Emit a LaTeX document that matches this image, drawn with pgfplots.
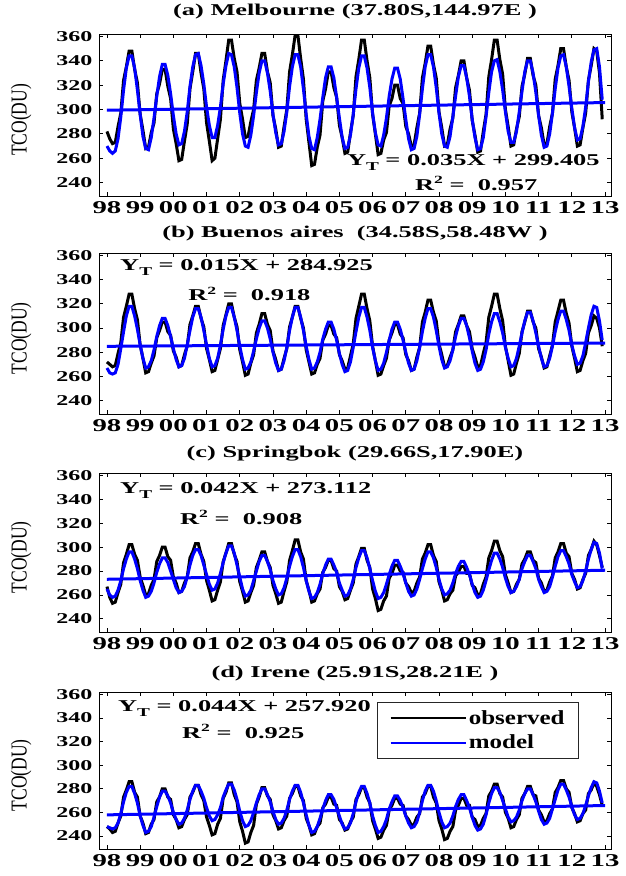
\documentclass[border=0pt]{standalone}
\usepackage{fontspec}
\setmainfont{Liberation Serif}
\newfontfamily\strfont{Liberation Serif}[FakeStretch=1.6]
\newfontfamily\legfont{Liberation Serif}[FakeStretch=1.25]
\usepackage{graphicx}
\usepackage{pgfplots}
\usepackage{pgfplotstable}
\pgfplotsset{compat=1.18}

% ---------- Melbourne ----------
\pgfplotstableread[row sep=\\]{v\\
282\\276\\272\\
273\\286\\297\\324\\335\\348\\
348\\333\\322\\296\\283\\268\\
269\\281\\289\\313\\321\\333\\
333\\319\\309\\284\\272\\258\\
259\\274\\288\\317\\331\\346\\
346\\330\\317\\289\\274\\258\\
260\\276\\292\\324\\340\\357\\
357\\342\\331\\305\\292\\277\\
278\\290\\300\\324\\334\\346\\
346\\331\\322\\295\\284\\269\\
270\\286\\300\\331\\345\\361\\
361\\342\\325\\292\\273\\254\\
255\\269\\279\\307\\317\\331\\
331\\318\\310\\287\\277\\264\\
265\\281\\295\\327\\341\\357\\
357\\340\\326\\296\\280\\263\\
264\\275\\281\\303\\309\\320\\
320\\309\\305\\286\\280\\270\\
271\\285\\297\\326\\338\\352\\
352\\337\\326\\298\\285\\270\\
271\\284\\293\\318\\328\\340\\
340\\326\\316\\291\\279\\265\\
266\\282\\296\\327\\341\\357\\
357\\341\\329\\300\\286\\270\\
271\\284\\294\\319\\329\\342\\
342\\328\\320\\295\\285\\271\\
272\\286\\297\\325\\336\\350\\
350\\335\\324\\298\\285\\270\\
271\\285\\297\\324\\336\\350\\
348\\330\\292\\
}\melO
\pgfplotstableread[row sep=\\]{v\\
270\\266\\264\\
266\\276\\294\\316\\334\\344\\
344\\334\\316\\296\\278\\268\\
267\\277\\293\\311\\327\\337\\
337\\328\\313\\295\\280\\271\\
272\\282\\298\\319\\335\\345\\
346\\336\\321\\302\\287\\277\\
277\\287\\302\\321\\336\\346\\
345\\335\\318\\297\\280\\270\\
269\\279\\295\\314\\330\\340\\
340\\330\\315\\296\\281\\271\\
272\\282\\298\\319\\335\\345\\
345\\335\\317\\296\\278\\268\\
267\\277\\292\\310\\326\\335\\
335\\326\\310\\293\\277\\268\\
269\\279\\296\\317\\334\\344\\
344\\334\\318\\297\\281\\271\\
270\\279\\293\\311\\325\\334\\
334\\325\\309\\292\\276\\267\\
268\\278\\296\\317\\335\\345\\
345\\335\\318\\297\\280\\270\\
269\\278\\294\\311\\327\\336\\
336\\326\\311\\292\\277\\267\\
268\\277\\294\\314\\331\\340\\
341\\331\\316\\298\\282\\273\\
273\\282\\298\\315\\331\\340\\
340\\330\\314\\295\\279\\269\\
270\\280\\297\\317\\334\\344\\
345\\335\\319\\301\\285\\275\\
276\\286\\302\\323\\339\\349\\
350\\335\\308\\
}\melM

% ---------- Buenos Aires ----------
\pgfplotstableread[row sep=\\]{v\\
272\\270\\268\\
269\\279\\288\\309\\318\\328\\
328\\316\\307\\286\\275\\263\\
264\\271\\277\\292\\298\\305\\
305\\297\\294\\281\\276\\268\\
269\\278\\285\\303\\310\\318\\
318\\308\\301\\283\\274\\264\\
265\\274\\283\\302\\311\\320\\
320\\309\\301\\282\\272\\261\\
262\\271\\278\\296\\303\\312\\
312\\303\\298\\281\\274\\265\\
266\\275\\283\\301\\309\\318\\
318\\308\\300\\282\\272\\262\\
263\\270\\275\\290\\295\\302\\
302\\295\\292\\278\\273\\266\\
267\\277\\287\\308\\318\\328\\
328\\316\\306\\285\\273\\261\\
262\\269\\275\\290\\296\\303\\
303\\295\\292\\278\\273\\265\\
266\\276\\284\\305\\313\\323\\
323\\313\\306\\287\\278\\268\\
269\\276\\282\\297\\303\\310\\
310\\302\\297\\283\\276\\268\\
269\\279\\288\\309\\318\\328\\
328\\316\\306\\285\\273\\261\\
262\\271\\279\\297\\305\\314\\
314\\305\\300\\283\\276\\267\\
268\\277\\286\\305\\314\\323\\
323\\312\\304\\285\\275\\264\\
265\\273\\279\\296\\302\\310\\
308\\300\\285\\
}\baO
\pgfplotstableread[row sep=\\]{v\\
267\\263\\262\\
263\\270\\283\\297\\310\\318\\
318\\310\\299\\286\\275\\267\\
268\\273\\282\\293\\302\\308\\
308\\302\\293\\283\\274\\268\\
269\\275\\286\\298\\309\\316\\
316\\309\\298\\286\\275\\268\\
269\\275\\286\\299\\310\\317\\
317\\309\\298\\285\\274\\266\\
267\\272\\281\\291\\300\\306\\
306\\300\\291\\280\\271\\265\\
266\\273\\284\\298\\309\\317\\
317\\309\\298\\285\\274\\266\\
267\\272\\280\\291\\299\\305\\
305\\299\\290\\279\\270\\264\\
265\\272\\284\\297\\309\\317\\
317\\309\\298\\284\\273\\265\\
266\\271\\280\\290\\299\\305\\
305\\299\\290\\280\\271\\265\\
266\\273\\284\\297\\308\\316\\
316\\309\\298\\285\\274\\267\\
268\\273\\282\\293\\302\\308\\
308\\302\\292\\281\\271\\265\\
266\\272\\282\\295\\305\\312\\
312\\305\\296\\284\\275\\268\\
269\\275\\285\\296\\306\\313\\
313\\306\\296\\285\\275\\268\\
269\\275\\285\\297\\307\\314\\
314\\307\\298\\286\\277\\270\\
271\\277\\288\\300\\311\\318\\
317\\306\\290\\
}\baM

% ---------- Springbok ----------
\pgfplotstableread[row sep=\\]{v\\
267\\258\\253\\
254\\262\\269\\287\\294\\302\\
302\\294\\289\\275\\268\\260\\
261\\268\\273\\288\\293\\300\\
300\\292\\289\\275\\270\\262\\
263\\270\\275\\291\\296\\303\\
303\\294\\288\\272\\264\\255\\
256\\264\\271\\288\\295\\303\\
303\\294\\288\\271\\263\\254\\
255\\262\\268\\283\\289\\296\\
296\\288\\283\\268\\261\\253\\
254\\263\\271\\289\\297\\306\\
306\\296\\290\\272\\264\\254\\
255\\261\\265\\279\\283\\289\\
289\\282\\280\\267\\263\\256\\
257\\264\\270\\286\\292\\299\\
299\\289\\283\\265\\257\\247\\
248\\255\\259\\274\\278\\285\\
285\\280\\279\\270\\267\\262\\
263\\270\\275\\290\\295\\302\\
302\\293\\288\\271\\264\\255\\
256\\261\\264\\276\\279\\284\\
284\\278\\278\\268\\266\\260\\
261\\269\\275\\291\\297\\305\\
305\\297\\292\\277\\270\\262\\
263\\269\\273\\286\\290\\296\\
296\\289\\287\\274\\270\\263\\
264\\271\\276\\291\\296\\303\\
303\\295\\292\\278\\273\\265\\
266\\273\\278\\293\\298\\305\\
302\\293\\283\\
}\spO
\pgfplotstableread[row sep=\\]{v\\
265\\260\\258\\
259\\264\\272\\282\\290\\296\\
296\\290\\282\\272\\264\\258\\
259\\263\\270\\279\\286\\291\\
291\\287\\280\\273\\266\\262\\
263\\267\\275\\285\\293\\298\\
298\\293\\285\\277\\269\\264\\
265\\270\\278\\287\\295\\301\\
301\\295\\285\\275\\265\\259\\
260\\264\\272\\280\\288\\293\\
293\\288\\281\\272\\265\\260\\
261\\266\\274\\284\\292\\298\\
298\\292\\283\\272\\263\\257\\
258\\262\\269\\278\\285\\290\\
290\\285\\279\\270\\264\\259\\
260\\265\\273\\283\\291\\297\\
297\\291\\282\\272\\263\\257\\
258\\262\\269\\277\\284\\289\\
289\\284\\278\\270\\263\\259\\
260\\265\\273\\282\\290\\296\\
296\\291\\283\\273\\265\\260\\
261\\264\\270\\278\\284\\288\\
288\\283\\277\\269\\262\\258\\
259\\264\\272\\281\\289\\295\\
295\\290\\283\\274\\267\\262\\
263\\267\\273\\282\\288\\293\\
293\\288\\282\\273\\267\\262\\
263\\267\\275\\284\\292\\297\\
297\\292\\286\\277\\271\\266\\
267\\272\\280\\290\\298\\304\\
303\\295\\282\\
}\spM

% ---------- Irene ----------
\pgfplotstableread[row sep=\\]{v\\
248\\246\\243\\
244\\251\\257\\273\\279\\286\\
286\\277\\273\\257\\251\\242\\
243\\250\\254\\269\\273\\280\\
280\\273\\271\\258\\254\\247\\
248\\254\\258\\273\\277\\283\\
283\\275\\270\\256\\249\\241\\
242\\250\\255\\272\\277\\285\\
285\\275\\269\\252\\244\\234\\
235\\243\\249\\267\\273\\281\\
281\\274\\271\\258\\253\\246\\
247\\253\\257\\272\\276\\282\\
282\\274\\270\\255\\249\\241\\
242\\248\\251\\264\\267\\273\\
273\\267\\266\\254\\251\\245\\
246\\252\\256\\271\\275\\281\\
281\\273\\268\\253\\246\\238\\
239\\245\\249\\262\\266\\272\\
272\\267\\266\\257\\254\\249\\
250\\256\\259\\273\\276\\282\\
282\\273\\268\\253\\246\\237\\
238\\244\\248\\262\\266\\272\\
272\\266\\266\\256\\254\\248\\
249\\255\\259\\274\\278\\284\\
284\\276\\273\\260\\255\\247\\
248\\254\\258\\272\\276\\282\\
282\\275\\274\\262\\258\\252\\
253\\259\\263\\277\\281\\287\\
287\\280\\277\\264\\259\\252\\
253\\259\\262\\276\\279\\285\\
282\\275\\266\\
}\irO
\pgfplotstableread[row sep=\\]{v\\
248\\247\\246\\
247\\251\\259\\269\\277\\282\\
282\\276\\268\\257\\249\\243\\
244\\248\\256\\265\\273\\278\\
278\\274\\268\\260\\254\\250\\
251\\255\\262\\271\\278\\283\\
283\\278\\272\\264\\257\\253\\
254\\258\\264\\273\\279\\284\\
284\\279\\271\\261\\253\\248\\
249\\253\\260\\268\\275\\280\\
280\\275\\269\\261\\254\\250\\
251\\255\\262\\271\\278\\283\\
283\\277\\268\\258\\249\\243\\
244\\248\\255\\263\\270\\275\\
275\\271\\264\\257\\250\\246\\
247\\251\\259\\269\\277\\282\\
282\\276\\268\\257\\249\\243\\
244\\248\\254\\263\\269\\274\\
274\\270\\264\\257\\251\\247\\
248\\252\\260\\270\\278\\283\\
283\\278\\270\\260\\252\\247\\
248\\251\\257\\265\\271\\275\\
275\\270\\264\\256\\249\\245\\
246\\250\\258\\268\\276\\281\\
281\\277\\270\\263\\256\\252\\
253\\256\\262\\270\\276\\280\\
280\\275\\269\\261\\254\\250\\
251\\255\\263\\271\\279\\284\\
284\\279\\273\\265\\258\\254\\
255\\259\\266\\274\\281\\286\\
285\\278\\268\\
}\irM

\newcommand{\tfont}{\strfont\bfseries\fontsize{16.5}{16.5}\selectfont}
\newcommand{\YT}[1]{Y\raisebox{-0.35em}{\fontsize{12}{12}\selectfont T} = #1}
\newcommand{\RR}[1]{R\raisebox{0.42em}{\fontsize{11}{11}\selectfont 2} =\ \ #1}

\pgfplotsset{
 panel/.style={
  scale only axis, width=512pt,
  xmin=1997.76, xmax=2013.18, ymin=229, ymax=362,
  xtick={1998,1999,2000,2001,2002,2003,2004,2005,2006,2007,2008,2009,2010,2011,2012,2013},
  xticklabels={98,99,00,01,02,03,04,05,06,07,08,09,10,11,12,13},
  ytick={240,260,280,300,320,340,360},
  yticklabels={240,260,280,300,320,340,360},
  tick align=inside,
  major tick length=4pt,
  xticklabel style={font=\strfont\bfseries\fontsize{18}{18}\selectfont, yshift=-2pt},
  yticklabel style={font=\strfont\bfseries\fontsize{15}{15}\selectfont, xshift=-3pt},
  ylabel={\scalebox{1}[1.3]{TCO(DU)}},
  ylabel style={font=\fontsize{17.5}{17.5}\selectfont, at={(axis description cs:-0.152,0.47)}, anchor=center},
  title style={font=\strfont\bfseries\fontsize{16.5}{16.5}\selectfont, at={(axis description cs:0.5,1)}, anchor=base},
  axis line style={line width=0.8pt},
  every tick/.style={black, line width=0.8pt},
 },
 obs/.style={black, line width=3pt},
 mod/.style={blue, line width=3pt},
 trend/.style={blue, line width=3pt},
}

\begin{document}
\begin{tikzpicture}
\useasboundingbox (0,0) rectangle (626pt,-876pt);

% (a)
\begin{axis}[panel, height=162pt, at={(99pt,-196pt)}, anchor=south west,
  title={(a) Melbourne (37.80S,144.97E )}, title style={yshift=13pt}]
\addplot[obs] table[x expr=1998+\coordindex/12, y=v]{\melO};
\addplot[mod] table[x expr=1998+\coordindex/12, y=v]{\melM};
\addplot[trend] coordinates {(1998,299.405) (2013,305.705)};
\node[font=\tfont, anchor=base west, inner sep=0pt] at (rel axis cs:0.484,0.191) {\YT{0.035X + 299.405}};
\node[font=\tfont, anchor=base west, inner sep=0pt] at (rel axis cs:0.617,0.037) {\RR{0.957}};
\end{axis}

% (b)
\begin{axis}[panel, height=161pt, at={(99pt,-414pt)}, anchor=south west,
  title={(b) Buenos aires\ \ (34.58S,58.48W )}, title style={yshift=10pt}]
\addplot[obs] table[x expr=1998+\coordindex/12, y=v]{\baO};
\addplot[mod] table[x expr=1998+\coordindex/12, y=v]{\baM};
\addplot[trend] coordinates {(1998,284.925) (2013,287.625)};
\node[font=\tfont, anchor=base west, inner sep=0pt] at (rel axis cs:0.041,0.894) {\YT{0.015X + 284.925}};
\node[font=\tfont, anchor=base west, inner sep=0pt] at (rel axis cs:0.174,0.702) {\RR{0.918}};
\end{axis}

% (c)
\begin{axis}[panel, height=159pt, at={(99pt,-632pt)}, anchor=south west,
  title={(c) Springbok (29.66S,17.90E)}, title style={yshift=10pt}]
\addplot[obs] table[x expr=1998+\coordindex/12, y=v]{\spO};
\addplot[mod] table[x expr=1998+\coordindex/12, y=v]{\spM};
\addplot[trend] coordinates {(1998,273.112) (2013,280.672)};
\node[font=\tfont, anchor=base west, inner sep=0pt] at (rel axis cs:0.041,0.874) {\YT{0.042X + 273.112}};
\node[font=\tfont, anchor=base west, inner sep=0pt] at (rel axis cs:0.158,0.679) {\RR{0.908}};
\end{axis}

% (d)
\begin{axis}[panel, height=157pt, at={(99pt,-849pt)}, anchor=south west,
  title={(d) Irene (25.91S,28.21E )}, title style={yshift=9pt},
  legend style={at={(0.543,0.936)}, anchor=north west, draw=black!85, line width=1.2pt,
    font=\legfont\bfseries\fontsize{20}{20}\selectfont, inner xsep=12pt, inner ysep=6pt,
    row sep=5pt, cells={anchor=west}},
  legend image code/.code={\draw[#1, line width=2.2pt] (0pt,0pt) -- (75pt,0pt);}]
\addplot[obs] table[x expr=1998+\coordindex/12, y=v]{\irO};
\addlegendentry{observed}
\addplot[mod] table[x expr=1998+\coordindex/12, y=v]{\irM};
\addlegendentry{model}
\addplot[trend, forget plot] coordinates {(1998,257.92) (2013,265.84)};
\node[font=\tfont, anchor=base west, inner sep=0pt] at (rel axis cs:0.037,0.879) {\YT{0.044X + 257.920}};
\node[font=\tfont, anchor=base west, inner sep=0pt] at (rel axis cs:0.162,0.707) {\RR{0.925}};
\end{axis}
\end{tikzpicture}
\end{document}
